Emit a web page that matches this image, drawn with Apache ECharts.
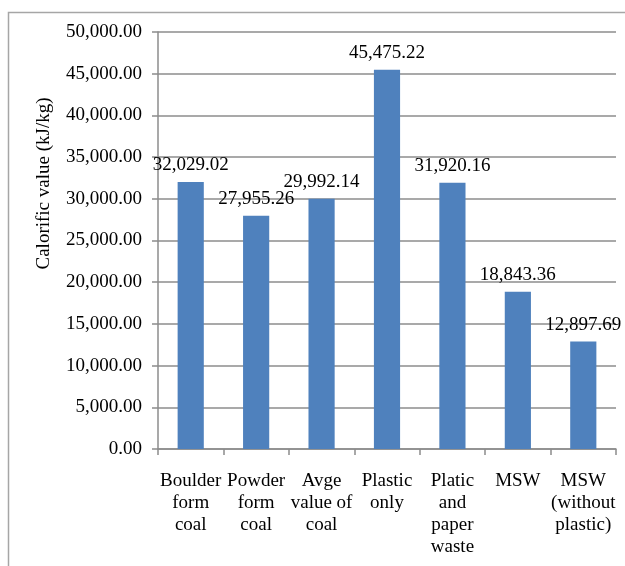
<!DOCTYPE html>
<html>
<head>
<meta charset="utf-8">
<script src="https://cdn.jsdelivr.net/npm/echarts@6/dist/echarts.min.js"></script>
<style>
  html, body { margin: 0; padding: 0; background: #ffffff; }
  #chart { width: 625px; height: 566px; }
</style>
</head>
<body>
<div id="chart"></div>
<script>
// Fuel samples and their measured calorific values (kJ/kg)
const categories = [
  'Boulder\nform\ncoal',
  'Powder\nform\ncoal',
  'Avge\nvalue of\ncoal',
  'Plastic\nonly',
  'Platic\nand\npaper\nwaste',
  'MSW',
  'MSW\n(without\nplastic)'
];
const calorificValues = [32029.02, 27955.26, 29992.14, 45475.22, 31920.16, 18843.36, 12897.69];
const yAxisTitle = 'Calorific value (kJ/kg)';

const fmt = v => Number(v).toLocaleString('en-US', { minimumFractionDigits: 2, maximumFractionDigits: 2 });
const serif = '"Liberation Serif", "Times New Roman", serif';

const chart = echarts.init(document.getElementById('chart'), null, { renderer: 'canvas' });
chart.setOption({
  backgroundColor: '#ffffff',
  animation: false,
  graphic: [{
    type: 'rect',
    silent: true,
    shape: { x: 8.5, y: 12.5, width: 700, height: 700 },
    style: { fill: 'none', stroke: '#a6a6a6', lineWidth: 1.5 }
  }],
  grid: { left: 158, right: 9, top: 32, bottom: 117, containLabel: false },
  xAxis: {
    type: 'category',
    data: categories,
    axisLine: { lineStyle: { color: '#8c8c8c', width: 1.5 } },
    axisTick: { show: true, length: 6, alignWithLabel: false, lineStyle: { color: '#8c8c8c', width: 1.5 } },
    axisLabel: {
      interval: 0,
      margin: 21,
      fontFamily: serif,
      fontSize: 19,
      lineHeight: 22,
      color: '#000000'
    }
  },
  yAxis: {
    type: 'value',
    min: 0,
    max: 50000,
    interval: 5000,
    name: yAxisTitle,
    nameLocation: 'middle',
    nameGap: 104,
    nameRotate: 90,
    nameTextStyle: {
      fontFamily: serif,
      fontSize: 19,
      color: '#000000',
      padding: [0, 0, 0, 114]
    },
    axisLine: { show: true, lineStyle: { color: '#8c8c8c', width: 1.5 } },
    axisTick: { show: true, length: 6, lineStyle: { color: '#8c8c8c', width: 1.5 } },
    splitLine: { show: true, lineStyle: { color: '#8c8c8c', width: 1.5 } },
    axisLabel: {
      margin: 16,
      fontFamily: serif,
      fontSize: 19,
      color: '#000000',
      formatter: v => fmt(v)
    }
  },
  series: [{
    type: 'bar',
    data: calorificValues,
    barWidth: '40%',
    itemStyle: { color: '#4f81bd' },
    label: {
      show: true,
      position: 'top',
      distance: 7,
      fontFamily: serif,
      fontSize: 19,
      color: '#000000',
      formatter: p => fmt(p.value)
    }
  }]
});
</script>
</body>
</html>
